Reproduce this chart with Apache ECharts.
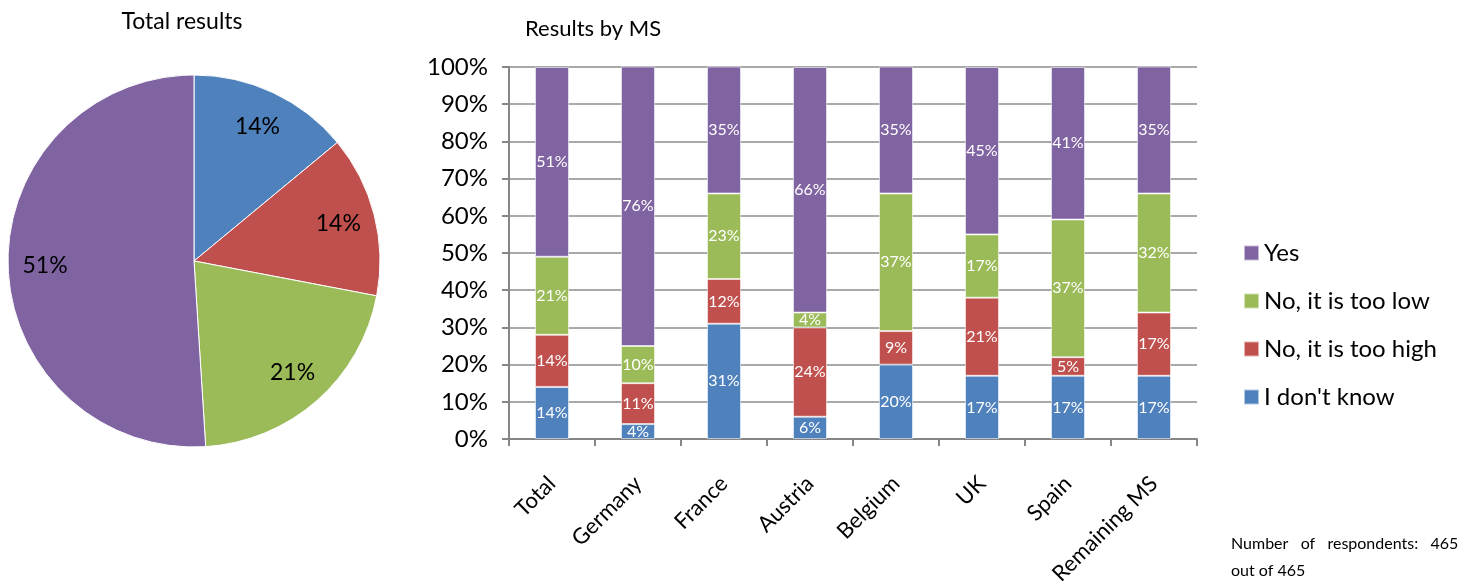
<!DOCTYPE html>
<html>
<head>
<meta charset="utf-8">
<title>Total results / Results by MS</title>
<script src="https://cdn.jsdelivr.net/npm/echarts@6/dist/echarts.min.js"></script>
<style>
  html, body { margin: 0; padding: 0; background: #ffffff; }
  #chart { width: 1472px; height: 581px; }
</style>
</head>
<body>
<div id="chart"></div>
<script>
// Answer categories (bottom to top of each stack)
const answers = ['I don\'t know', 'No, it is too high', 'No, it is too low', 'Yes'];
const answerColors = ['#4F81BD', '#C0504D', '#9BBB59', '#8064A2'];
const legendOrder = ['Yes', 'No, it is too low', 'No, it is too high', 'I don\'t know'];

// Overall shares (%)
const totalShares = [14, 14, 21, 51];

// Member states
const countries = ['Total', 'Germany', 'France', 'Austria', 'Belgium', 'UK', 'Spain', 'Remaining MS'];

// Shares per member state (%)
const dontKnow = [14, 4, 31, 6, 20, 17, 17, 17];
const tooHigh  = [14, 11, 12, 24, 9, 21, 5, 17];
const tooLow   = [21, 10, 23, 4, 37, 17, 37, 32];
const yes      = [51, 76, 35, 66, 35, 45, 41, 35];

const barValues = [dontKnow, tooHigh, tooLow, yes];

const FONT = 'Lato, "Open Sans", sans-serif';

const chart = echarts.init(document.getElementById('chart'), null, { renderer: 'canvas' });

const pieData = answers.map((name, i) => ({
  name: name,
  value: totalShares[i],
  itemStyle: { color: answerColors[i] }
}));

const barSeries = answers.map((name, i) => ({
  name: name,
  type: 'bar',
  stack: 'ms',
  barWidth: 34,
  data: barValues[i],
  itemStyle: {
    color: answerColors[i],
    borderColor: 'rgba(255,255,255,0.55)',
    borderWidth: 1
  },
  label: {
    show: true,
    position: 'inside',
    formatter: '{c}%',
    color: '#ffffff',
    fontFamily: FONT,
    fontSize: 16
  },
  emphasis: { disabled: true }
}));

const option = {
  backgroundColor: '#ffffff',
  animation: false,
  title: [
    {
      text: 'Total results',
      left: 177,
      top: 5,
      textAlign: 'center',
      textStyle: { fontFamily: FONT, fontSize: 23, fontWeight: 'normal', color: '#000' }
    },
    {
      text: 'Results by MS',
      left: 520,
      top: 13,
      textStyle: { fontFamily: FONT, fontSize: 22, fontWeight: 'normal', color: '#000' }
    }
  ],
  legend: {
    orient: 'vertical',
    left: 1238,
    top: 236,
    itemWidth: 15,
    itemHeight: 15,
    itemGap: 24,
    icon: 'rect',
    data: legendOrder,
    textStyle: { fontFamily: FONT, fontSize: 24, color: '#000', padding: [0, 0, 0, 0] },
    selectedMode: false
  },
  grid: {
    left: 509,
    top: 67,
    width: 688,
    height: 372,
    containLabel: false,
    outerBoundsMode: 'none'
  },
  xAxis: {
    type: 'category',
    data: countries,
    boundaryGap: true,
    axisLine: { show: true, lineStyle: { color: '#868686', width: 2 } },
    axisTick: { show: true, length: 7, lineStyle: { color: '#868686', width: 2 } },
    axisLabel: {
      rotate: 45,
      margin: 41,
      interval: 0,
      color: '#000',
      fontFamily: FONT,
      fontSize: 22
    }
  },
  yAxis: {
    type: 'value',
    min: 0,
    max: 100,
    interval: 10,
    axisLine: { show: true, lineStyle: { color: '#868686', width: 2 } },
    axisTick: { show: true, length: 7, lineStyle: { color: '#868686', width: 2 } },
    axisLabel: {
      formatter: '{value}%',
      margin: 21,
      color: '#000',
      fontFamily: FONT,
      fontSize: 24
    },
    splitLine: { show: true, lineStyle: { color: '#8c8c8c', width: 1.5 } }
  },
  series: [
    {
      name: 'Total results',
      type: 'pie',
      center: [194, 261],
      radius: [0, 186],
      startAngle: 90,
      clockwise: true,
      data: pieData,
      itemStyle: { borderColor: '#ffffff', borderWidth: 1 },
      label: { show: false },
      labelLine: { show: false },
      emphasis: { disabled: true },
      silent: true
    },
    {
      // label ring: places the percentages toward the outer part of each slice
      name: 'Total results labels',
      type: 'pie',
      center: [194, 261],
      radius: [106, 186],
      startAngle: 90,
      clockwise: true,
      data: totalShares.map((v, i) => ({ name: answers[i], value: v })),
      itemStyle: { color: 'rgba(0,0,0,0)' },
      label: {
        show: true,
        position: 'inside',
        formatter: '{c}%',
        color: '#000',
        fontFamily: FONT,
        fontSize: 23
      },
      labelLine: { show: false },
      emphasis: { disabled: true },
      silent: true
    }
  ].concat(barSeries),
  graphic: [
    {
      type: 'text',
      left: 1231,
      top: 530,
      style: {
        text: 'Number   of   respondents:   465\nout of 465',
        fontFamily: FONT,
        fontSize: 16,
        lineHeight: 27,
        fill: '#000'
      }
    }
  ]
};

chart.setOption(option);
</script>
</body>
</html>
